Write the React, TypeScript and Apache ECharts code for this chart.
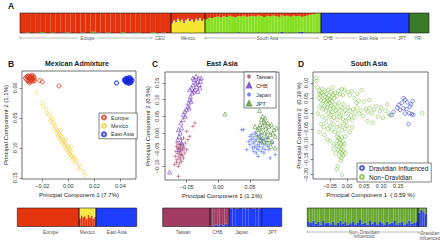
import React, { useEffect, useRef } from "react";
import * as echarts from "echarts";

const FONT = "'Liberation Sans', Arial, Helvetica, sans-serif";

// ---------- Panel A admixture fractions ----------
const aEurGreen = [0,0.03,0,0,0.05,0,0.02,0,0,0.04,0,0,0.02,0,0.06,0,0,0.03,0,0,0.05,0,0,0.02,0,0,0.04,0,0.02,0];
const aEurBlue = [0,0,0,0.02,0,0,0,0,0.03,0,0,0,0,0,0,0.02,0,0,0,0,0,0,0.03,0,0,0,0,0,0,0];
const aMexYellow = [0.48,0.62,0.55,0.7,0.58,0.66,0.5,0.64,0.72,0.6,0.67,0.55,0.69,0.62,0.74,0.6,0.68];
const aMexBlue = [0.04,0.03,0.06,0.02,0.05,0.03,0.07,0.02,0.03,0.05,0.02,0.04,0.03,0.05,0.02,0.04,0.03];
const aSaRed = [0.3,0.24,0.26,0.2,0.18,0.22,0.16,0.2,0.14,0.18,0.21,0.15,0.17,0.13,0.19,0.16,0.14,0.18,0.12,0.16,0.2,0.14,0.17,0.13,0.15,0.19,0.12,0.16,0.14,0.18,0.13,0.16,0.14,0.19,0.15,0.12,0.08,0.05,0.02,0];
const aSaBlue = [0,0.02,0,0,0.03,0,0,0.02,0,0,0,0.04,0,0,0,0.02,0,0,0.03,0,0,0,0.02,0,0,0,0.05,0,0,0.03,0,0,0.04,0.06,0,0.03,0,0,0,0];
const aEastAsia = [1];
const aYri = [1];

// ---------- Panel B ----------
const bEurope = [[-0.031,-0.018],[-0.03,-0.016],[-0.029,-0.019],[-0.028,-0.015],[-0.032,-0.014],[-0.027,-0.017],[-0.03,-0.012],[-0.029,-0.013],[-0.027,-0.014],[-0.031,-0.02],[-0.028,-0.021],[-0.033,-0.016],[-0.027,-0.011],[-0.029,-0.017],[-0.03,-0.019],[-0.028,-0.013],[-0.026,-0.016],[-0.032,-0.018],[-0.029,-0.01],[-0.031,-0.011],[-0.027,-0.02],[-0.026,-0.012],[-0.022,-0.012],[-0.02,-0.01],[-0.0072,-0.003],[-0.03,-0.008]];
const bMexico = [[-0.0243,0.008],[-0.0205,0.025],[-0.019,0.03],[-0.017,0.036],[-0.016,0.042],[-0.015,0.045],[-0.013,0.05],[-0.014,0.055],[-0.012,0.058],[-0.011,0.06],[-0.01,0.064],[-0.011,0.068],[-0.009,0.07],[-0.008,0.072],[-0.009,0.075],[-0.007,0.077],[-0.008,0.08],[-0.006,0.079],[-0.007,0.083],[-0.005,0.082],[-0.006,0.086],[-0.004,0.087],[-0.005,0.09],[-0.003,0.089],[-0.004,0.093],[-0.002,0.092],[-0.003,0.096],[-0.001,0.097],[-0.002,0.1],[0,0.099],[-0.001,0.103],[0.001,0.104],[0,0.107],[0.002,0.106],[0.001,0.11],[0.003,0.112],[0.002,0.114],[0.004,0.116],[0.003,0.119],[0.005,0.118],[0.006,0.122],[0.005,0.125],[0.008,0.128],[0.009,0.133],[0.008,0.136],[0.012,0.14],[0.0125,0.145],[-0.012,0.052],[-0.006,0.07],[-0.002,0.085],[0.002,0.098]];
const bEastAsia = [[0.045,-0.013],[0.046,-0.011],[0.047,-0.014],[0.044,-0.012],[0.048,-0.012],[0.046,-0.015],[0.045,-0.009],[0.047,-0.01],[0.046,-0.013],[0.044,-0.01],[0.048,-0.015],[0.045,-0.016],[0.047,-0.008],[0.043,-0.013],[0.046,-0.008],[0.048,-0.009],[0.044,-0.015],[0.047,-0.017],[0.045,-0.012],[0.049,-0.012],[0.037,-0.008]];
const bTicksX = [-0.02, 0, 0.02, 0.04];
const bTicksY = [0, 0.05, 0.1, 0.15];
const bBarMexRed = [0.45,0.6,0.5,0.55,0.4,0.62,0.48,0.58,0.42,0.52];

// ---------- Panel C ----------
const cTaiwan = [[-0.065,-0.03],[-0.062,-0.035],[-0.058,-0.032],[-0.066,-0.04],[-0.06,-0.042],[-0.055,-0.038],[-0.063,-0.048],[-0.059,-0.05],[-0.054,-0.045],[-0.067,-0.055],[-0.061,-0.057],[-0.056,-0.052],[-0.064,-0.062],[-0.058,-0.064],[-0.053,-0.06],[-0.068,-0.07],[-0.062,-0.072],[-0.057,-0.068],[-0.065,-0.08],[-0.06,-0.078],[-0.055,-0.075],[-0.066,-0.088],[-0.061,-0.09],[-0.058,-0.085],[-0.069,-0.095],[-0.063,-0.1],[-0.06,-0.035],[-0.057,-0.045],[-0.052,-0.03],[-0.05,-0.05],[-0.064,-0.045],[-0.06,-0.065],[-0.063,-0.13],[-0.048,-0.02],[-0.045,-0.01],[-0.04,0.02],[-0.037,0.03],[-0.05,0.005],[-0.055,-0.015],[-0.058,-0.02]];
const cChb = [[-0.077,-0.117],[-0.064,-0.02],[-0.062,-0.01],[-0.06,0.0],[-0.063,0.01],[-0.058,0.015],[-0.059,0.03],[-0.056,0.04],[-0.055,0.055],[-0.052,0.05],[-0.053,0.065],[-0.05,0.07],[-0.048,0.08],[-0.046,0.075],[-0.047,0.09],[-0.045,0.1],[-0.043,0.095],[-0.044,0.11],[-0.041,0.12],[-0.039,0.125],[-0.042,0.135],[-0.037,0.13],[-0.04,0.145],[-0.036,0.15],[-0.038,0.16],[-0.034,0.14],[-0.033,0.155],[-0.031,0.165],[-0.035,0.17],[-0.03,0.145],[-0.028,0.155],[-0.029,0.135],[-0.032,0.125],[-0.027,0.165],[-0.04,0.165],[-0.045,0.13],[-0.058,-0.03],[-0.062,-0.05]];
const cJapan = [[0.037,0.01],[0.04,0.01],[0.045,-0.05],[0.063,-0.07],[0.082,-0.075],[0.09,-0.065],[0.05,-0.01],[0.052,-0.02],[0.055,-0.015],[0.058,-0.025],[0.055,-0.03],[0.06,-0.02],[0.062,-0.035],[0.065,-0.028],[0.057,-0.04],[0.06,-0.045],[0.065,-0.04],[0.068,-0.03],[0.07,-0.045],[0.072,-0.035],[0.053,-0.005],[0.058,0.0],[0.062,-0.008],[0.066,-0.015],[0.07,-0.02],[0.075,-0.025],[0.078,-0.04],[0.074,-0.05],[0.068,-0.055],[0.063,-0.05],[0.056,-0.055],[0.05,-0.035],[0.048,-0.025],[0.06,-0.06],[0.072,-0.06],[0.08,-0.05],[0.085,-0.03],[0.067,-0.005],[0.054,-0.045],[0.077,-0.015]];
const cJpt = [[0.0106,0.057],[0.065,0.067],[0.07,0.05],[0.068,0.04],[0.074,0.045],[0.072,0.035],[0.078,0.03],[0.066,0.025],[0.07,0.02],[0.075,0.015],[0.08,0.02],[0.084,0.025],[0.088,0.01],[0.062,0.01],[0.068,0.005],[0.073,0.0],[0.078,0.005],[0.082,-0.005],[0.086,0.0],[0.09,-0.01],[0.065,-0.01],[0.07,-0.015],[0.076,-0.01],[0.08,-0.02],[0.085,-0.025],[0.072,-0.025],[0.078,-0.03],[0.066,-0.02],[0.083,-0.04],[0.09,-0.045],[0.06,-0.005],[0.074,0.03],[0.064,0.015],[0.092,0.015],[0.058,0.02]];
const cTicksX = [-0.05, 0, 0.05];
const cTicksY = [-0.1, -0.05, 0, 0.05, 0.1, 0.15];
const cBarChbBlue = [0.02,0.05,0.1,0.04,0.12,0.06,0.15,0.08];
const cBarJapanMaroon = [0.03,0,0.05,0,0.02,0.06,0,0.03,0,0.04];

// ---------- Panel D ----------
const dNonDravidian = [[-0.089,0.117],[-0.089,0.106],
[-0.08,0.075],[-0.075,0.068],[-0.072,0.08],[-0.078,0.06],[-0.07,0.06],[-0.066,0.072],[-0.064,0.055],[-0.06,0.065],[-0.058,0.05],[-0.055,0.078],[-0.052,0.06],[-0.05,0.045],[-0.047,0.07],[-0.045,0.055],[-0.042,0.085],[-0.04,0.062],[-0.083,0.05],[-0.076,0.045],[-0.068,0.042],[-0.062,0.038],[-0.056,0.03],[-0.05,0.035],[-0.044,0.04],[-0.038,0.05],[-0.035,0.068],[-0.03,0.058],[-0.025,0.075],[-0.02,0.065],[-0.015,0.08],[-0.012,0.06],[-0.008,0.078],[0.002,0.07],[0.008,0.06],[0.015,0.072],[0.022,0.05],[0.03,0.065],[0.043,0.077],[-0.082,0.065],[-0.086,0.085],
[-0.08,0.02],[-0.075,0.03],[-0.07,0.015],[-0.066,0.025],[-0.062,0.01],[-0.058,0.02],[-0.054,0.0],[-0.05,0.015],[-0.046,0.025],[-0.043,0.005],[-0.04,0.018],[-0.036,0.03],[-0.033,0.01],[-0.03,0.0],[-0.027,0.02],[-0.024,0.035],[-0.02,0.01],[-0.017,-0.005],[-0.014,0.02],[-0.01,0.03],[-0.006,0.01],[-0.002,0.0],[0.003,0.02],[0.008,0.01],[0.012,-0.005],[0.018,0.015],[0.024,0.005],[0.03,0.02],[0.036,0.0],[0.04,0.01],[0.046,-0.008],[-0.085,0.0],[-0.072,-0.01],[-0.06,-0.015],[-0.048,-0.005],[-0.038,-0.012],[-0.028,-0.02],[-0.022,-0.01],[-0.012,-0.018],[-0.004,-0.025],[0.005,-0.015],[0.014,-0.022],[0.022,-0.012],[0.028,0.035],[0.034,0.042],[-0.055,0.045],[-0.045,-0.02],
[0.055,0.015],[0.06,0.005],[0.066,0.018],[0.072,0.0],[0.078,0.012],[0.085,0.025],[0.09,-0.01],[0.096,0.008],[0.1,0.02],[0.105,-0.014],[0.112,0.01],[0.118,0.03],[0.122,0.0],[0.126,-0.005],[0.06,-0.025],[0.075,-0.03],[0.22,0.001],[0.05,0.04],[0.065,0.045],
[-0.075,-0.035],[-0.068,-0.045],[-0.062,-0.03],[-0.056,-0.05],[-0.05,-0.04],[-0.045,-0.055],[-0.04,-0.035],[-0.035,-0.06],[-0.03,-0.045],[-0.025,-0.065],[-0.02,-0.04],[-0.015,-0.055],[-0.01,-0.035],[-0.005,-0.05],[0.0,-0.04],[0.008,-0.06],[0.015,-0.045],[-0.08,-0.06],[-0.066,-0.07],[-0.058,-0.085],
[-0.03,-0.075],[-0.025,-0.08],[-0.02,-0.085],[-0.015,-0.078],[-0.028,-0.09],[-0.022,-0.095],[-0.017,-0.1],[-0.012,-0.092],[-0.03,-0.105],[-0.024,-0.11],[-0.018,-0.115],[-0.013,-0.108],[-0.008,-0.1],[-0.026,-0.12],[-0.02,-0.125],[-0.015,-0.13],[-0.01,-0.122],[-0.022,-0.14],[-0.016,-0.145],[-0.011,-0.138],[-0.005,-0.13],[-0.018,-0.155],[-0.033,-0.13],[-0.04,-0.115],[-0.038,-0.1],[-0.027,-0.172],[-0.03,-0.183],[-0.015,-0.2],[-0.05,-0.09],[-0.005,-0.075]];
const dDravidian = [[0.13,-0.005],[0.136,0.006],[0.147,0.019],[0.155,0.012],[0.165,0.05],[0.17,0.045],[0.176,0.037],[0.184,0.023],[0.192,0.041],[0.174,0.015],[0.182,0.001],[0.189,-0.002],[0.194,-0.004],[0.18,-0.035],[0.165,0.017],[0.151,0.028],[0.16,0.035],[0.187,0.03],[0.17,0.0]];
const dTicksX = [-0.05, 0, 0.05, 0.1, 0.15];
const dTicksY = [-0.2, -0.15, -0.1, -0.05, 0, 0.05, 0.1];
const dBarNdBlue = [0.28,0.2,0.32,0.15,0.25,0.1,0.3,0.18,0.22,0.12,0.26,0.08,0.2,0.3,0.14,0.24,0.1,0.18,0.28,0.12,0.2,0.35,0.15,0.22,0.1,0.3,0.16,0.24,0.12,0.28,0.18,0.08,0.25,0.14,0.22,0.3,0.12,0.2,0.26,0.1,0.18,0.32,0.15,0.22,0.28];
const dBarDrBlue = [0.75,0.9,0.82,0.7];

const fmt = (v: number) => (v < 0 ? "\u2212" : "") + Math.abs(v).toFixed(2);

function buildOption() {
  const grid: any[] = [];
  const xAxis: any[] = [];
  const yAxis: any[] = [];
  const series: any[] = [];
  const graphic: any[] = [];

  const rest = (...arrs: number[][]) => arrs[0].map((_, i) => Math.max(0, 1 - arrs.reduce((s, a) => s + a[i], 0)));

  function barGroup(id: string, left: number, top: number, width: number, height: number, layers: { data: number[]; color: string }[]) {
    const gi = grid.length;
    grid.push({ left, top, width, height });
    xAxis.push({ type: "category", gridIndex: gi, data: layers[0].data.map((_, i) => id + i), show: false });
    yAxis.push({ type: "value", gridIndex: gi, min: 0, max: 1, show: false });
    layers.forEach((l, k) =>
      series.push({
        type: "bar", name: id + "-" + k, xAxisIndex: gi, yAxisIndex: gi, stack: id,
        data: l.data, barWidth: "100%", barCategoryGap: 0, silent: true,
        itemStyle: { color: l.color },
      })
    );
    graphic.push({ type: "rect", z: 50, shape: { x: left, y: top, width, height }, style: { fill: "none", stroke: "#1a1a1a", lineWidth: 0.6 } });
  }

  function scatterGrid(left: number, top: number, width: number, height: number, xr: number[], yr: number[], xt: number[], yt: number[], xName: string, yName: string, inv: boolean, yGap: number, yLabMargin: number) {
    const gi = grid.length;
    grid.push({ left, top, width, height, show: true, borderColor: "#333", borderWidth: 0.7, backgroundColor: "transparent" });
    const tickStyle = { length: 2.5, lineStyle: { color: "#333", width: 0.6 } };
    xAxis.push({
      type: "value", gridIndex: gi, min: xr[0], max: xr[1], position: "bottom",
      axisLine: { show: false, onZero: false }, splitLine: { show: false },
      axisTick: { show: true, customValues: xt, ...tickStyle },
      axisLabel: { customValues: xt, formatter: fmt, fontSize: 5.5, color: "#333", margin: 3.5, fontFamily: FONT },
      name: xName, nameLocation: "middle", nameGap: 13,
      nameTextStyle: { fontSize: 6, color: "#222", fontFamily: FONT },
    });
    yAxis.push({
      type: "value", gridIndex: gi, min: yr[0], max: yr[1], inverse: inv, position: "left",
      axisLine: { show: false, onZero: false }, splitLine: { show: false },
      axisTick: { show: true, customValues: yt, ...tickStyle },
      axisLabel: { customValues: yt, formatter: fmt, rotate: 90, fontSize: 5.5, color: "#333", margin: yLabMargin, fontFamily: FONT },
      name: yName, nameLocation: "middle", nameGap: yGap,
      nameTextStyle: { fontSize: 6, color: "#222", fontFamily: FONT },
    });
    return gi;
  }

  const CIRCLE = "circle";
  const TRI = "triangle";
  const PLUS = "path://M0,5L10,5M5,0L5,10";
  function scat(gi: number, name: string, data: number[][], symbol: string, size: number, color: string, bw = 0.7) {
    series.push({
      type: "scatter", name, xAxisIndex: gi, yAxisIndex: gi, data, symbol, symbolSize: size, silent: true,
      itemStyle: { color: "rgba(0,0,0,0)", borderColor: color, borderWidth: bw },
    });
  }

  // ---- Panel A bars ----
  const RED = "#e3340e", YEL = "#f6e531", LIME = "#86e020", BLUE = "#1f3dff", DKG = "#3b7a2a";
  barGroup("aEur", 20, 13, 151, 20, [
    { data: aEurGreen, color: LIME }, { data: aEurBlue, color: BLUE }, { data: rest(aEurGreen, aEurBlue), color: RED },
  ]);
  barGroup("aMex", 171, 13, 34, 20, [
    { data: aMexYellow, color: YEL }, { data: aMexBlue, color: "#6a5acd" }, { data: rest(aMexYellow, aMexBlue), color: RED },
  ]);
  barGroup("aSa", 205, 13, 116, 20, [
    { data: aSaBlue, color: BLUE }, { data: rest(aSaRed, aSaBlue), color: LIME }, { data: aSaRed, color: RED },
  ]);
  barGroup("aEa", 321, 13, 88, 20, [{ data: aEastAsia, color: BLUE }]);
  barGroup("aYri", 409, 13, 20, 20, [{ data: aYri, color: DKG }]);

  // ---- Panel B ----
  const gB = scatterGrid(22, 71, 114, 108, [-0.0356, 0.052], [-0.028, 0.152], bTicksX, bTicksY,
    "Principal Component 1 (7.7%)", "Principal Component 2 (1.1%)", true, 13, 4);
  scat(gB, "Mexico", bMexico, CIRCLE, 3.5, "#f0cf3c");
  scat(gB, "Europe", bEurope, CIRCLE, 4, "#d8371c", 1);
  scat(gB, "East Asia", bEastAsia, CIRCLE, 4, "#1428e0", 1.2);

  barGroup("bEur", 17.3, 208, 61.7, 18.5, [{ data: [1], color: RED }]);
  barGroup("bMex", 79, 208, 17, 18.5, [{ data: bBarMexRed, color: RED }, { data: rest(bBarMexRed), color: YEL }]);
  barGroup("bEa", 96, 208, 40.7, 18.5, [{ data: [1], color: BLUE }]);

  // ---- Panel C ----
  const gC = scatterGrid(165, 72, 114, 108, [-0.0842, 0.0959], [-0.141, 0.183], cTicksX, cTicksY,
    "Principal Component 1 (1.1%)", "Principal Component 2 (0.5%)", false, 14, 5);
  scat(gC, "Taiwan", cTaiwan, PLUS, 4, "#a8476d");
  scat(gC, "CHB", cChb, TRI, 4, "#6a2fc0");
  scat(gC, "Japan", cJapan, PLUS, 4, "#4a6af0");
  scat(gC, "JPT", cJpt, TRI, 4, "#4c8a2c");

  const MAR = "#a23c63";
  barGroup("cTw", 162.7, 208, 47.3, 18.5, [{ data: [1], color: MAR }]);
  barGroup("cChb", 210, 208, 19.3, 18.5, [{ data: cBarChbBlue, color: BLUE }, { data: rest(cBarChbBlue), color: MAR }]);
  barGroup("cJap", 229.3, 208, 32.4, 18.5, [{ data: rest(cBarJapanMaroon), color: BLUE }, { data: cBarJapanMaroon, color: MAR }]);
  barGroup("cJpt", 261.7, 208, 20, 18.5, [{ data: [1], color: BLUE }]);

  // ---- Panel D ----
  const gD = scatterGrid(313, 72, 115, 107, [-0.0994, 0.2368], [-0.214, 0.136], dTicksX, dTicksY,
    "Principal Component 1  ( 0.59 %)", "Principal Component 2  (0.39 %)", false, 11, 4);
  scat(gD, "Non\u2212Dravidian", dNonDravidian, CIRCLE, 3.6, "#76c03c");
  scat(gD, "Dravidian Influenced", dDravidian, CIRCLE, 3.6, "#2234d0");

  const DG = "#6aa832", DB = "#2a46e8";
  barGroup("dNd", 307.3, 208, 110.7, 18.5, [{ data: dBarNdBlue, color: DB }, { data: rest(dBarNdBlue), color: DG }]);
  barGroup("dDr", 418, 208, 8.7, 18.5, [{ data: dBarDrBlue, color: DB }, { data: rest(dBarDrBlue), color: DG }]);

  // ---- texts ----
  const txt = (x: number, y: number, text: string, size: number, opts: any = {}) =>
    graphic.push({
      type: "text", x, y, z: 60, silent: true,
      style: {
        text, fontSize: size, fontFamily: FONT, fill: opts.fill || "#222", fontWeight: opts.bold ? "bold" : "normal",
        align: opts.align || "center", verticalAlign: "middle", textAlign: opts.align || "center", textVerticalAlign: "middle",
      },
    });
  const line = (x1: number, y1: number, x2: number, y2: number) =>
    graphic.push({ type: "line", z: 60, silent: true, shape: { x1, y1, x2, y2 }, style: { stroke: "#777", lineWidth: 0.5 } });

  txt(8, 5.5, "A", 8.5, { bold: true, align: "left" });
  txt(8, 63.5, "B", 8.5, { bold: true, align: "left" });
  txt(152, 63.5, "C", 8.5, { bold: true, align: "left" });
  txt(298, 63.5, "D", 8.5, { bold: true, align: "left" });
  txt(77, 63, "Mexican Admixture", 7, { bold: true });
  txt(222, 63, "East Asia", 7, { bold: true });
  txt(369, 63.5, "South Asia", 7, { bold: true });

  const la = { fill: "#555" };
  const yA = 38;
  line(20, yA, 78, yA); line(97, yA, 152, yA); line(20, yA - 1.2, 20, yA + 1.2); line(152, yA - 1.2, 152, yA + 1.2);
  txt(87.5, yA, "Europe", 4.5, la);
  txt(160, yA, "CEU", 4.5, la);
  txt(188, yA, "Mexico", 4.5, la);
  line(205, yA, 256, yA); line(279, yA, 318, yA); line(205, yA - 1.2, 205, yA + 1.2); line(318, yA - 1.2, 318, yA + 1.2);
  txt(267.5, yA, "South Asia", 4.5, la);
  txt(328, yA, "CHB", 4.5, la);
  line(336, yA, 357, yA); line(380, yA, 395, yA); line(336, yA - 1.2, 336, yA + 1.2); line(395, yA - 1.2, 395, yA + 1.2);
  txt(368.5, yA, "East Asia", 4.5, la);
  txt(402, yA, "JPT", 4.5, la);
  txt(418, yA, "YRI", 4.5, la);

  const yB = 232;
  txt(50.7, yB, "Europe", 4.8, la);
  txt(87.3, yB, "Mexico", 4.8, la);
  txt(116.7, yB, "East Asia", 4.8, la);
  txt(183.3, yB, "Taiwan", 4.8, la);
  txt(217.3, yB, "CHB", 4.8, la);
  txt(241.7, yB, "Japan", 4.8, la);
  txt(272.3, yB, "JPT", 4.8, la);
  line(307.3, yB, 350, yB); line(307.3, yB - 1.2, 307.3, yB + 1.2);
  line(378, yB, 418, yB); line(418, yB - 1.2, 418, yB + 1.2);
  line(418, yB, 423, yB + 2.5);
  txt(364, yB, "Non\u2212Dravidian", 4.5, la);
  txt(364, yB + 4.8, "Influenced", 4.5, la);
  txt(430, yB + 1.5, "Dravidian", 4.5, la);
  txt(430, yB + 6, "Influenced", 4.5, la);

  const legendBase = {
    orient: "vertical", selectedMode: false, borderColor: "#333", borderWidth: 0.6, backgroundColor: "#fff",
    itemWidth: 4, itemHeight: 4,
  };
  const legend = [
    { ...legendBase, left: 99, top: 113, itemGap: 2.4, padding: [1.5, 3, 1.5, 2], data: ["Europe", "Mexico", "East Asia"],
      textStyle: { fontSize: 5.5, color: "#333", fontFamily: FONT } },
    { ...legendBase, left: 244, top: 72, itemGap: 3, padding: [1.5, 3, 1.5, 2], data: ["Taiwan", "CHB", "Japan", "JPT"],
      textStyle: { fontSize: 5.5, color: "#333", fontFamily: FONT } },
    { ...legendBase, left: 357, top: 163, itemGap: 2, padding: [1.5, 3, 1.5, 2], data: ["Dravidian Influenced", "Non\u2212Dravidian"],
      textStyle: { fontSize: 6.5, color: "#222", fontFamily: FONT } },
  ];

  return {
    animation: false,
    backgroundColor: "#fff",
    textStyle: { fontFamily: FONT },
    grid, xAxis, yAxis, series, graphic, legend,
  };
}

export default function App() {
  const ref = useRef<HTMLDivElement>(null);
  useEffect(() => {
    if (!ref.current) return;
    const chart = echarts.init(ref.current, undefined, { renderer: "svg" });
    chart.setOption(buildOption() as any);
    return () => chart.dispose();
  }, []);
  return <div ref={ref} style={{ position: "fixed", left: 0, top: 0, width: 440, height: 242 }} />;
}
